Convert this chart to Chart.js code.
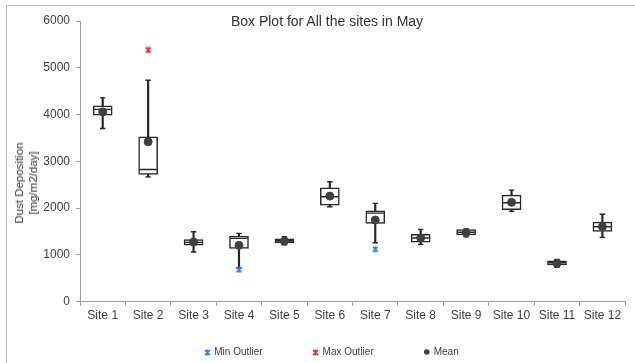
<!DOCTYPE html>
<html>
<head>
<meta charset="utf-8">
<script src="https://cdn.jsdelivr.net/npm/chart.js"></script>
<style>
  html, body { margin: 0; padding: 0; background: #fff; }
  #wrap { position: relative; width: 635px; height: 363px; overflow: hidden; font-family: "Liberation Sans", Arial, sans-serif; }
  #frame { position: absolute; left: 6px; top: 5px; width: 700px; height: 400px; border: 1px solid #bfbfbf; }
  #chart { position: absolute; left: 0; top: 0; }
  #title { position: absolute; left: 0; top: 13px; width: 654px; text-align: center; font-size: 14px; line-height: 16px; color: #333; }
  #ytitle { position: absolute; left: 26px; top: 183px; transform: translate(-50%, -50%) rotate(-90deg); white-space: nowrap; text-align: center; font-size: 11.5px; line-height: 14px; color: #333; }
</style>
</head>
<body>
<div id="wrap">
  <div id="frame"></div>
  <canvas id="chart" width="635" height="363"></canvas>
  <div id="title">Box Plot for All the sites in May</div>
  <div id="ytitle">Dust Deposition<br>[mg/m2/day]</div>
</div>
<script>
// data
const sites = ['Site 1', 'Site 2', 'Site 3', 'Site 4', 'Site 5', 'Site 6', 'Site 7', 'Site 8', 'Site 9', 'Site 10', 'Site 11', 'Site 12'];
const whiskerMin = [3703, 2669, 1061, 720, 1217, 2029, 1260, 1225, 1385, 1930, 735, 1375];
const q1 = [3987, 2720, 1211, 1140, 1260, 2065, 1674, 1275, 1430, 1965, 784, 1500];
const median = [4110, 2827, 1268, 1353, 1303, 2242, 1894, 1360, 1485, 2115, 833, 1602];
const q3 = [4185, 3524, 1330, 1405, 1345, 2434, 1943, 1439, 1540, 2278, 876, 1702];
const whiskerMax = [4356, 4734, 1495, 1460, 1388, 2563, 2101, 1545, 1555, 2385, 905, 1870];
const mean = [4057, 3417, 1275, 1205, 1295, 2257, 1745, 1367, 1478, 2125, 820, 1605];
const minOutlier = [null, null, null, 683, null, null, 1125, null, null, null, null, null];
const maxOutlier = [null, 5381, null, null, null, null, null, null, null, null, null, null];
const yTicks = [0, 1000, 2000, 3000, 4000, 5000, 6000];

const boxColor = '#262626';
const meanColor = '#404040';
const minColor = '#2f7de1';
const maxColor = '#ff1f1f';

// excel style star marker: an x with a vertical bar through it
function starMarker(color) {
    const c = document.createElement('canvas');
    c.width = 7;
    c.height = 7;
    const g = c.getContext('2d');
    g.strokeStyle = color;
    g.lineWidth = 1.7;
    g.beginPath();
    g.moveTo(1, 1); g.lineTo(6, 6);
    g.moveTo(6, 1); g.lineTo(1, 6);
    g.moveTo(3.5, 0.5); g.lineTo(3.5, 6.5);
    g.stroke();
    return c;
}
const minMarker = starMarker(minColor);
const maxMarker = starMarker(maxColor);

// floating bars for boxes and whiskers
const boxData = q1.map((v, i) => [v, q3[i]]);
const lowWhisker = whiskerMin.map((v, i) => [v, q1[i]]);
const highWhisker = q3.map((v, i) => [v, whiskerMax[i]]);

function points(data, style, radius, color, width, order, label) {
    return {
        type: 'line',
        label: label || '',
        data: data,
        showLine: false,
        pointStyle: style,
        pointRadius: radius,
        backgroundColor: color,
        borderColor: color,
        pointBorderWidth: width,
        borderWidth: width,
        order: order
    };
}

// legend drawn under the axis, spread out like the original
const legendItems = [
    { text: 'Min Outlier', marker: minMarker },
    { text: 'Max Outlier', marker: maxMarker },
    { text: 'Mean', color: meanColor }
];

const bottomLegend = {
    id: 'bottomLegend',
    afterDraw(chart) {
        const ctx = chart.ctx;
        ctx.save();
        ctx.font = '10px "Liberation Sans", Arial, sans-serif';
        ctx.textBaseline = 'middle';
        const gap = 50;
        const widths = legendItems.map(it => 10 + ctx.measureText(it.text).width);
        const total = widths.reduce((a, b) => a + b, 0) + gap * (legendItems.length - 1);
        let x = 331.5 - total / 2;
        const y = 352;
        legendItems.forEach((it, i) => {
            const cx = x + 3;
            if (it.marker) {
                ctx.drawImage(it.marker, Math.round(cx - 3.5), Math.round(y - 3.5));
            } else {
                ctx.fillStyle = it.color;
                ctx.beginPath();
                ctx.arc(cx, y, 2.8, 0, Math.PI * 2);
                ctx.fill();
            }
            ctx.fillStyle = '#404040';
            ctx.textAlign = 'left';
            ctx.fillText(it.text, x + 10, y);
            x += widths[i] + gap;
        });
        ctx.restore();
    }
};

const ctx = document.getElementById('chart').getContext('2d');
new Chart(ctx, {
    type: 'bar',
    data: {
        labels: sites,
        datasets: [
            {
                label: 'low whisker',
                data: lowWhisker,
                backgroundColor: boxColor,
                borderWidth: 0,
                barThickness: 1.5,
                grouped: false,
                order: 4
            },
            {
                label: 'high whisker',
                data: highWhisker,
                backgroundColor: boxColor,
                borderWidth: 0,
                barThickness: 1.5,
                grouped: false,
                order: 4
            },
            {
                label: 'box',
                data: boxData,
                backgroundColor: '#ffffff',
                borderColor: boxColor,
                borderWidth: 1.5,
                borderSkipped: false,
                barThickness: 19,
                grouped: false,
                order: 3
            },
            points(median, 'line', 8.5, boxColor, 1.4, 2, 'median'),
            points(whiskerMin, 'line', 2.7, boxColor, 1.4, 2, 'min'),
            points(whiskerMax, 'line', 2.7, boxColor, 1.4, 2, 'max'),
            points(minOutlier, minMarker, 3.5, minColor, 1, 0, 'Min Outlier'),
            points(maxOutlier, maxMarker, 3.5, maxColor, 1, 0, 'Max Outlier'),
            points(mean, 'circle', 4, meanColor, 1, 0, 'Mean')
        ]
    },
    options: {
        responsive: false,
        animation: false,
        events: [],
        layout: { padding: { left: 0, right: 5, top: 21, bottom: 31.3 } },
        plugins: {
            legend: { display: false },
            title: { display: false },
            tooltip: { enabled: false }
        },
        scales: {
            x: {
                grid: { drawOnChartArea: false, drawTicks: true, tickLength: 4, color: '#a0a0a0', offset: true },
                border: { color: '#a0a0a0', width: 1 },
                ticks: {
                    color: '#404040',
                    font: { family: '"Liberation Sans", Arial, sans-serif', size: 12 },
                    padding: 3,
                    maxRotation: 0,
                    autoSkip: false
                },
                afterFit(scale) { scale.height = 30; }
            },
            y: {
                min: 0,
                max: 6000,
                afterBuildTicks(scale) { scale.ticks = yTicks.map(v => ({ value: v })); },
                grid: { drawOnChartArea: false, drawTicks: true, tickLength: 4, color: '#a0a0a0' },
                border: { color: '#a0a0a0', width: 1 },
                ticks: {
                    color: '#404040',
                    font: { family: '"Liberation Sans", Arial, sans-serif', size: 12 },
                    padding: 6,
                    callback: (v) => String(v)
                },
                afterFit(scale) { scale.width = 80; }
            }
        }
    },
    plugins: [bottomLegend]
});
</script>
</body>
</html>
